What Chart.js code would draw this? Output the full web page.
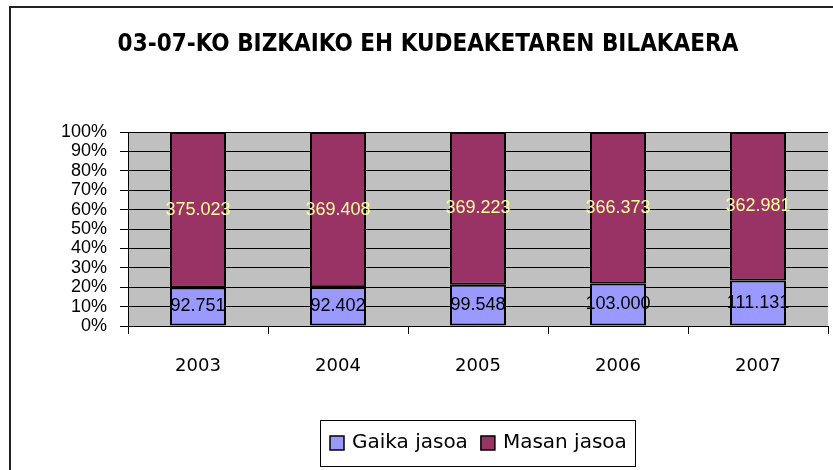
<!DOCTYPE html>
<html>
<head>
<meta charset="utf-8">
<script src="https://cdn.jsdelivr.net/npm/chart.js@4/dist/chart.umd.min.js"></script>
<style>
  html, body { margin: 0; padding: 0; background: #fff; }
  #wrap { width: 833px; height: 470px; }
</style>
</head>
<body>
<div id="wrap"><canvas id="eh"></canvas></div>
<script>
const years = ['2003', '2004', '2005', '2006', '2007'];
const gaika = [92751, 92402, 99548, 103000, 111131];
const masan = [375023, 369408, 369223, 366373, 362981];
const seriesNames = ['Gaika jasoa', 'Masan jasoa'];
const title = '03-07-KO BIZKAIKO EH KUDEAKETAREN BILAKAERA';

const totals = years.map((y, i) => gaika[i] + masan[i]);
const pct = arr => arr.map((v, i) => v / totals[i] * 100);
const fmt = v => String(v).replace(/\B(?=(\d{3})+(?!\d))/g, '.');

const raw = [gaika, masan];
const labelColors = ['#000000', '#FFFF99'];

const decor = {
  id: 'decor',
  beforeDraw(chart) {
    const ctx = chart.ctx, a = chart.chartArea;
    ctx.save();
    ctx.fillStyle = '#fff';
    ctx.fillRect(0, 0, chart.width, chart.height);
    // outer frame
    ctx.strokeStyle = '#222';
    ctx.lineWidth = 2;
    ctx.beginPath();
    ctx.moveTo(10, chart.height);
    ctx.lineTo(10, 7);
    ctx.lineTo(chart.width, 7);
    ctx.stroke();
    // plot background
    ctx.fillStyle = '#C0C0C0';
    ctx.fillRect(a.left, a.top, a.right - a.left, a.bottom - a.top);
    // title
    ctx.fillStyle = '#000';
    ctx.font = 'bold 24px "DejaVu Sans Condensed", "DejaVu Sans"';
    ctx.textAlign = 'center';
    ctx.textBaseline = 'middle';
    ctx.fillText(title, 428, 45);
    ctx.restore();
  },
  afterDatasetsDraw(chart) {
    const ctx = chart.ctx;
    ctx.save();
    ctx.font = '18px "Liberation Sans", Arial';
    ctx.textAlign = 'center';
    ctx.textBaseline = 'middle';
    chart.data.datasets.forEach((ds, di) => {
      chart.getDatasetMeta(di).data.forEach((bar, i) => {
        ctx.fillStyle = labelColors[di];
        ctx.fillText(fmt(raw[di][i]), bar.x, (bar.y + bar.base) / 2);
      });
    });
    ctx.restore();
  },
  afterDraw(chart) {
    const ctx = chart.ctx;
    ctx.save();
    // legend box
    ctx.strokeStyle = '#000';
    ctx.lineWidth = 1;
    ctx.strokeRect(320.5, 420.5, 315, 46);
    ctx.font = '20px "DejaVu Sans"';
    ctx.textBaseline = 'middle';
    ctx.textAlign = 'left';
    let x = 330;
    chart.data.datasets.forEach(ds => {
      ctx.fillStyle = ds.backgroundColor;
      ctx.fillRect(x, 436, 14, 14);
      ctx.lineWidth = 1.5;
      ctx.strokeStyle = '#000';
      ctx.strokeRect(x, 436, 14, 14);
      ctx.fillStyle = '#000';
      ctx.fillText(ds.label, x + 22, 443);
      x += 22 + ctx.measureText(ds.label).width + 13;
    });
    ctx.restore();
  }
};

new Chart(document.getElementById('eh'), {
  type: 'bar',
  plugins: [decor],
  data: {
    labels: years,
    datasets: [
      {
        label: seriesNames[0],
        data: pct(gaika),
        backgroundColor: '#9999FF',
        borderColor: '#000',
        borderWidth: 2,
        borderSkipped: false
      },
      {
        label: seriesNames[1],
        data: pct(masan),
        backgroundColor: '#993366',
        borderColor: '#000',
        borderWidth: 2,
        borderSkipped: false
      }
    ]
  },
  options: {
    responsive: true,
    maintainAspectRatio: false,
    animation: false,
    layout: { padding: { left: 0, right: 5, top: 132, bottom: 0 } },
    plugins: {
      legend: { display: false },
      title: { display: false },
      tooltip: { enabled: false }
    },
    datasets: { bar: { categoryPercentage: 1, barPercentage: 0.4 } },
    scales: {
      x: {
        stacked: true,
        afterFit: s => { s.height = 144; },
        grid: { offset: true, drawOnChartArea: false, drawTicks: true, tickLength: 8, color: '#000' },
        border: { color: '#000' },
        ticks: { padding: 22, color: '#000', font: { family: 'DejaVu Sans', size: 18 } }
      },
      y: {
        stacked: true,
        min: 0,
        max: 100,
        afterFit: s => { s.width = 128; },
        grid: { color: '#000', tickLength: 8, drawTicks: true },
        border: { color: '#000' },
        ticks: {
          stepSize: 10,
          autoSkip: false,
          padding: 13,
          color: '#000',
          font: { family: 'Liberation Sans', size: 18 },
          callback: v => v + '%'
        }
      }
    }
  }
});
</script>
</body>
</html>
